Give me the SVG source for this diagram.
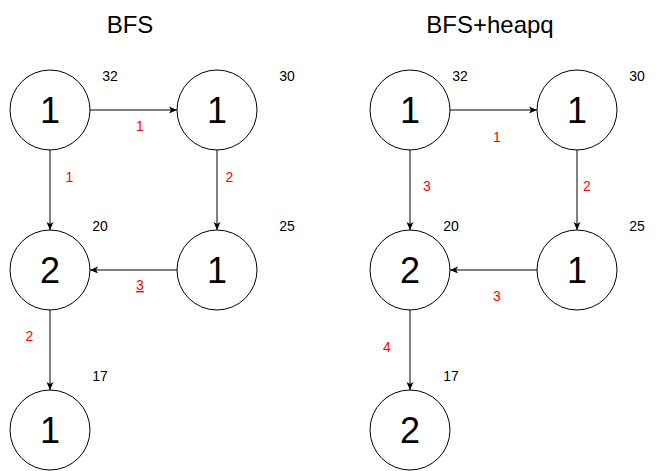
<svg xmlns="http://www.w3.org/2000/svg" width="669" height="471" viewBox="0 0 669 471">
<defs>
<style>
.node circle{fill:#fff;stroke:#000;stroke-width:1}
.val{font-family:"Liberation Sans",Arial,sans-serif;font-size:36px;fill:#000;text-anchor:middle}
.num{font-family:"Liberation Sans",Arial,sans-serif;font-size:14px;fill:#000;text-anchor:middle}
.lbl{font-family:"Liberation Sans",Arial,sans-serif;font-size:14px;fill:#ff0000;text-anchor:middle}
.title{font-family:"Liberation Sans",Arial,sans-serif;font-size:24px;fill:#000;text-anchor:middle}
.edge{stroke:#000;stroke-width:1;fill:none;marker-end:url(#arr)}
</style>
<marker id="arr" viewBox="0 0 8 8" markerWidth="8" markerHeight="8" refX="8" refY="4" orient="auto" markerUnits="userSpaceOnUse">
<path d="M0,0.5 L8,4 L0,7.5 L2,4 Z" fill="#000"/>
</marker>
</defs>
<rect width="669" height="471" fill="#fff"/>
<text class="title" x="130" y="33">BFS</text>
<text class="title" x="490" y="33">BFS+heapq</text>

<g id="connectors">
<line class="edge" x1="90" y1="110" x2="177" y2="110"/>
<line class="edge" x1="50" y1="150" x2="50" y2="230"/>
<line class="edge" x1="217" y1="150" x2="217" y2="230"/>
<line class="edge" x1="177" y1="270" x2="90" y2="270"/>
<line class="edge" x1="50" y1="310" x2="50" y2="390"/>
<line class="edge" x1="450" y1="110" x2="537" y2="110"/>
<line class="edge" x1="410" y1="150" x2="410" y2="230"/>
<line class="edge" x1="577" y1="150" x2="577" y2="230"/>
<line class="edge" x1="537" y1="270" x2="450" y2="270"/>
<line class="edge" x1="410" y1="310" x2="410" y2="390"/>
<text class="lbl" x="140" y="131">1</text>
<text class="lbl" x="69.5" y="182">1</text>
<text class="lbl" x="229.5" y="182">2</text>
<text class="lbl" x="140" y="290" text-decoration="underline">3</text>
<text class="lbl" x="29.5" y="341">2</text>
<text class="lbl" x="497" y="142">1</text>
<text class="lbl" x="427" y="191">3</text>
<text class="lbl" x="587" y="191">2</text>
<text class="lbl" x="497" y="301">3</text>
<text class="lbl" x="387" y="352">4</text>
</g>

<g id="L1" class="node"><circle cx="50" cy="110" r="40"/><text class="val" x="50" y="123">1</text><text class="num" x="110" y="81">32</text></g>
<g id="L2" class="node"><circle cx="217" cy="110" r="40"/><text class="val" x="217" y="123">1</text><text class="num" x="287" y="81">30</text></g>
<g id="L3" class="node"><circle cx="50" cy="270" r="40"/><text class="val" x="50" y="283">2</text><text class="num" x="100" y="231">20</text></g>
<g id="L4" class="node"><circle cx="217" cy="270" r="40"/><text class="val" x="217" y="283">1</text><text class="num" x="287" y="231">25</text></g>
<g id="L5" class="node"><circle cx="50" cy="430" r="40"/><text class="val" x="50" y="443">1</text><text class="num" x="100" y="381">17</text></g>

<g id="R1" class="node"><circle cx="410" cy="110" r="40"/><text class="val" x="410" y="123">1</text><text class="num" x="460" y="81">32</text></g>
<g id="R2" class="node"><circle cx="577" cy="110" r="40"/><text class="val" x="577" y="123">1</text><text class="num" x="637" y="81">30</text></g>
<g id="R3" class="node"><circle cx="410" cy="270" r="40"/><text class="val" x="410" y="283">2</text><text class="num" x="451" y="231">20</text></g>
<g id="R4" class="node"><circle cx="577" cy="270" r="40"/><text class="val" x="577" y="283">1</text><text class="num" x="637" y="231">25</text></g>
<g id="R5" class="node"><circle cx="410" cy="430" r="40"/><text class="val" x="410" y="443">2</text><text class="num" x="451" y="381">17</text></g>
</svg>
